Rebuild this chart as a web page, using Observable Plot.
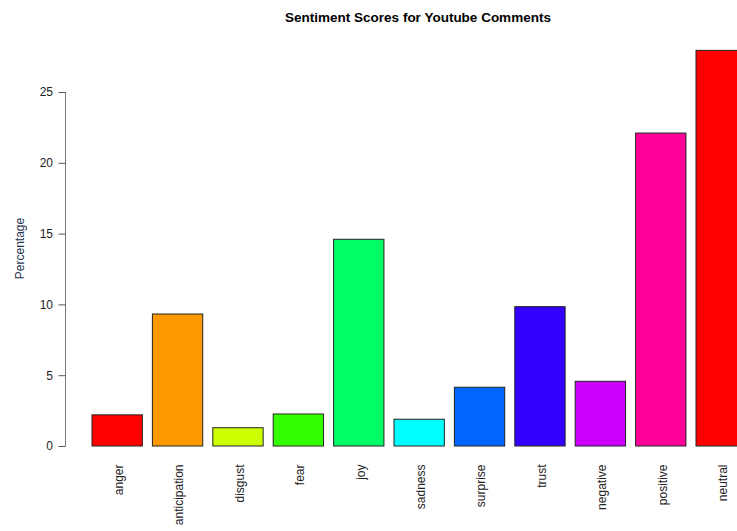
<!DOCTYPE html>
<html>
<head>
<meta charset="utf-8">
<script src="https://cdn.jsdelivr.net/npm/d3@7"></script>
<script src="https://cdn.jsdelivr.net/npm/@observablehq/plot@0.6"></script>
<style>
  html, body { margin: 0; padding: 0; background: #fff; overflow: hidden; }
  #wrap { position: relative; width: 737px; height: 531px; }
  #title { position: absolute; top: 10px; left: 0; width: 836px; text-align: center;
           font: bold 13.5px "Liberation Sans", Arial, sans-serif; color: #000; }
  #chart { position: absolute; top: 36px; left: 0; }
</style>
</head>
<body>
<div id="wrap">
  <div id="title">Sentiment Scores for Youtube Comments</div>
  <div id="chart"></div>
</div>
<script>
const categories = ["anger", "anticipation", "disgust", "fear", "joy", "sadness", "surprise", "trust", "negative", "positive", "neutral"];
const percentages = [2.2, 9.32, 1.29, 2.26, 14.6, 1.89, 4.15, 9.84, 4.57, 22.1, 27.94];
const barColors = ["#FF0000", "#FF9900", "#CCFF00", "#33FF00", "#00FF66", "#00FFFF", "#0066FF", "#3300FF", "#CC00FF", "#FF0099", "#FF0000"];
const yTicks = [0, 5, 10, 15, 20, 25];

const data = categories.map((c, i) => ({category: c, value: percentages[i], color: barColors[i]}));

const font = '"Liberation Sans", Arial, sans-serif';
const W = 737, H = 495;
const step = 60.4, pIn = 0.2 / 1.2;
const x0 = 92, x1 = x0 + step * (categories.length - pIn);

const yAxisLine = (index, scales, values, dims) => {
  const g = d3.create("svg:g");
  g.append("line")
    .attr("x1", 65.5).attr("x2", 65.5)
    .attr("y1", scales.y(0)).attr("y2", scales.y(25))
    .attr("stroke", "#777").attr("stroke-width", 1);
  return g.node();
};

const chart = Plot.plot({
  width: W,
  height: H,
  marginLeft: 65,
  marginRight: 0,
  marginTop: 0,
  marginBottom: 85,
  style: {fontFamily: font, fontSize: "12px", background: "white", overflow: "hidden"},
  x: {type: "band", domain: categories, range: [x0, x1], paddingInner: pIn, paddingOuter: 0, align: 0, round: false, label: null},
  y: {domain: [0, 25], range: [410, 56], label: null},
  marks: [
    Plot.barY(data, {x: "category", y: "value", fill: "color", stroke: "#222", strokeWidth: 1, inset: 0}),
    yAxisLine,
    Plot.axisY({ticks: yTicks, tickSize: 7, tickPadding: 6, stroke: "#555", color: "#222", fontSize: 12, label: null, dx: 0.5}),
    Plot.axisX({tickSize: 0, tickRotate: -90, tickPadding: 18, dx: 1.5, color: "#222", fontSize: 12, label: null}),
    Plot.text(["Percentage"], {frameAnchor: "left", textAnchor: "middle", dx: -45, dy: 7, rotate: -90, fill: "#1f3550", fontSize: 12})
  ]
});
document.getElementById("chart").appendChild(chart);
</script>
</body>
</html>
